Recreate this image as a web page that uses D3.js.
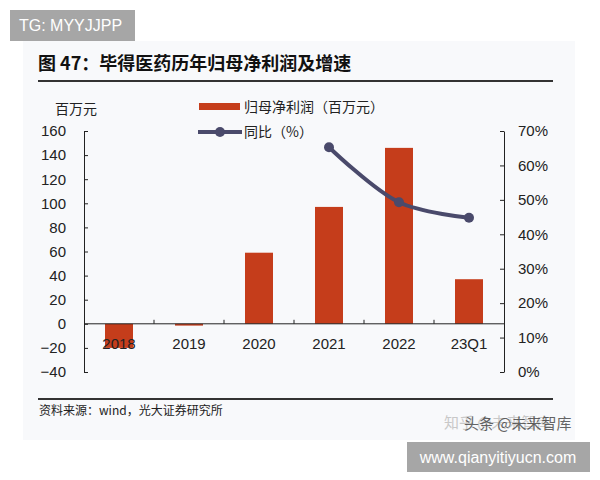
<!DOCTYPE html>
<html>
<head>
<meta charset="utf-8">
<script src="https://cdn.jsdelivr.net/npm/d3@7"></script>
<style>
  body { margin: 0; background: #fff; }
  svg { display: block; font-family: "Liberation Sans", "Noto Sans CJK SC", sans-serif; }
</style>
</head>
<body>
<svg id="chart" width="600" height="480"></svg>
<script>
  // data
  var categories = ['2018', '2019', '2020', '2021', '2022', '23Q1'];
  var profit = [-20, -1.5, 59, 97, 146, 37];          // 归母净利润（百万元）
  var growth = [null, null, null, 65.3, 49.3, 44.8];   // 同比（%）
  var leftTicks = [-40, -20, 0, 20, 40, 60, 80, 100, 120, 140, 160];
  var rightTicks = [0, 10, 20, 30, 40, 50, 60, 70];

  var barColor = '#c53d1b';
  var lineColor = '#4a4a6b';
  var cjk = '"Noto Sans CJK SC", sans-serif';

  var svg = d3.select('#chart');

  // light panel behind the figure
  svg.append('rect')
    .attr('x', 23).attr('y', 41)
    .attr('width', 552).attr('height', 399)
    .attr('fill', '#f8f9fb');

  // TG tag
  svg.append('rect')
    .attr('x', 10).attr('y', 10).attr('width', 125).attr('height', 31)
    .attr('fill', '#a6a6a6');
  svg.append('text')
    .attr('x', 19).attr('y', 31)
    .attr('fill', '#fff')
    .style('font-size', '16px')
    .text('TG: MYYJJPP');

  // title
  svg.append('text')
    .attr('x', 38).attr('y', 70)
    .style('font-family', cjk)
    .style('font-weight', 'bold')
    .style('font-size', '18px')
    .attr('fill', '#111')
    .text('图 47：毕得医药历年归母净利润及增速');
  svg.append('line')
    .attr('x1', 38).attr('x2', 553).attr('y1', 81).attr('y2', 81)
    .attr('stroke', '#333').attr('stroke-width', 2);

  var x = d3.scaleBand()
    .domain(categories)
    .range([84, 504])
    .paddingInner(0.6)
    .paddingOuter(0.3);

  var y = d3.scaleLinear().domain([-40, 160]).range([372, 131]);
  var y2 = d3.scaleLinear().domain([0, 70]).range([372, 131]);

  // unit label
  svg.append('text')
    .attr('x', 76).attr('y', 114)
    .attr('text-anchor', 'middle')
    .style('font-family', cjk)
    .style('font-size', '14px')
    .attr('fill', '#222')
    .text('百万元');

  // left axis, ticks pointing inward
  var leftAxis = svg.append('g')
    .attr('transform', 'translate(84,0)')
    .call(d3.axisRight(y).tickValues(leftTicks).tickSize(4).tickSizeOuter(0));
  leftAxis.select('.domain').attr('stroke', '#222');
  leftAxis.selectAll('.tick line').attr('stroke', '#222');
  leftAxis.selectAll('.tick text')
    .attr('x', -18).attr('text-anchor', 'end')
    .style('font-size', '15px').attr('fill', '#222');

  // right axis
  var rightAxis = svg.append('g')
    .attr('transform', 'translate(504,0)')
    .call(d3.axisLeft(y2).tickValues(rightTicks).tickSize(4).tickSizeOuter(0)
      .tickFormat(function(d) { return d + '%'; }));
  rightAxis.select('.domain').attr('stroke', '#222');
  rightAxis.selectAll('.tick line').attr('stroke', '#222');
  rightAxis.selectAll('.tick text')
    .attr('x', 14).attr('text-anchor', 'start')
    .style('font-size', '15px').attr('fill', '#222');

  // bars
  svg.append('g').selectAll('rect')
    .data(profit)
    .enter().append('rect')
    .attr('x', function(d, i) { return x(categories[i]); })
    .attr('y', function(d) { return y(Math.max(0, d)); })
    .attr('width', x.bandwidth())
    .attr('height', function(d) { return Math.abs(y(d) - y(0)); })
    .attr('fill', barColor);

  // category axis on zero line, ticks between bands pointing up
  svg.append('line')
    .attr('x1', 84).attr('x2', 504)
    .attr('y1', y(0)).attr('y2', y(0))
    .attr('stroke', '#222');
  svg.append('g').selectAll('line')
    .data(categories.slice(1))
    .enter().append('line')
    .attr('x1', function(d) { return x(d) - x.step() * x.paddingInner() / 2; })
    .attr('x2', function(d) { return x(d) - x.step() * x.paddingInner() / 2; })
    .attr('y1', y(0)).attr('y2', y(0) - 4)
    .attr('stroke', '#222');
  svg.append('g').selectAll('text')
    .data(categories)
    .enter().append('text')
    .attr('x', function(d) { return x(d) + x.bandwidth() / 2; })
    .attr('y', y(0) + 25)
    .attr('text-anchor', 'middle')
    .style('font-size', '15px')
    .attr('fill', '#222')
    .text(function(d) { return d; });

  // growth line
  var pts = growth.map(function(v, i) { return { c: categories[i], v: v }; })
    .filter(function(p) { return p.v !== null; });
  var line = d3.line()
    .x(function(p) { return x(p.c) + x.bandwidth() / 2; })
    .y(function(p) { return y2(p.v); })
    .curve(d3.curveCatmullRom.alpha(0.5));
  svg.append('path')
    .datum(pts)
    .attr('d', line)
    .attr('fill', 'none')
    .attr('stroke', lineColor)
    .attr('stroke-width', 4);
  svg.append('g').selectAll('circle')
    .data(pts)
    .enter().append('circle')
    .attr('cx', function(p) { return x(p.c) + x.bandwidth() / 2; })
    .attr('cy', function(p) { return y2(p.v); })
    .attr('r', 5)
    .attr('fill', lineColor);

  // legend
  var legend = svg.append('g');
  legend.append('rect')
    .attr('x', 199).attr('y', 103).attr('width', 41).attr('height', 7)
    .attr('fill', barColor);
  legend.append('text')
    .attr('x', 244).attr('y', 112)
    .style('font-family', cjk).style('font-size', '14px').attr('fill', '#222')
    .text('归母净利润（百万元）');
  legend.append('line')
    .attr('x1', 198).attr('x2', 242).attr('y1', 132).attr('y2', 132)
    .attr('stroke', lineColor).attr('stroke-width', 4);
  legend.append('circle')
    .attr('cx', 220).attr('cy', 132).attr('r', 5).attr('fill', lineColor);
  legend.append('text')
    .attr('x', 244).attr('y', 137)
    .style('font-family', cjk).style('font-size', '14px').attr('fill', '#222')
    .text('同比（%）');

  // source
  svg.append('line')
    .attr('x1', 38).attr('x2', 553).attr('y1', 399).attr('y2', 399)
    .attr('stroke', '#333').attr('stroke-width', 2);
  svg.append('text')
    .attr('x', 39).attr('y', 415)
    .style('font-family', cjk).style('font-size', '12px').attr('fill', '#222')
    .text('资料来源：wind，光大证券研究所');

  // watermarks
  svg.append('text')
    .attr('x', 444).attr('y', 428)
    .style('font-family', cjk).style('font-size', '15px').attr('fill', '#c8c8c8')
    .text('知乎 @未来智库');
  svg.append('text')
    .attr('x', 464).attr('y', 429)
    .style('font-family', cjk).style('font-size', '15px').attr('fill', '#333')
    .attr('opacity', 0.75)
    .text('头条 @未来智库');

  svg.append('rect')
    .attr('x', 407).attr('y', 442).attr('width', 183).attr('height', 30)
    .attr('fill', '#a6a6a6');
  svg.append('text')
    .attr('x', 498).attr('y', 463)
    .attr('text-anchor', 'middle')
    .attr('fill', '#fff')
    .style('font-size', '16px')
    .text('www.qianyitiyucn.com');
</script>
</body>
</html>
